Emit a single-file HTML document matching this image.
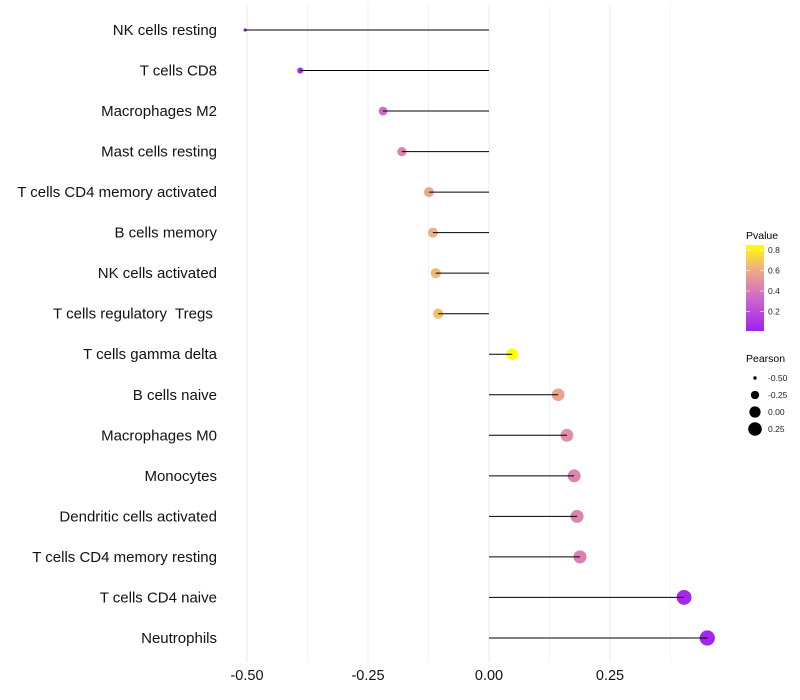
<!DOCTYPE html>
<html><head><meta charset="utf-8"><style>
body{margin:0;background:#fff;}
svg{display:block;font-family:"Liberation Sans",sans-serif;}
text{white-space:pre;}
</style></head><body>
<svg id="chart" width="800" height="700">
<defs>
<linearGradient id="pg" x1="0" y1="1" x2="0" y2="0">
<stop offset="0" stop-color="#a020f0"/>
<stop offset="0.37" stop-color="#cc66cc"/>
<stop offset="0.55" stop-color="#e08aa8"/>
<stop offset="0.73" stop-color="#f0b080"/>
<stop offset="1" stop-color="#ffff00"/>
</linearGradient>
</defs>
<g id="grid"></g>
<g id="marks"></g>
<g id="labels"></g>
<g id="xticks"></g>
<g>
<text x="746" y="239" font-size="10.5">Pvalue</text>
<rect x="746" y="245" width="18" height="86" fill="url(#pg)"/>
<g id="cbticks"></g>
</g>
<g id="sizeleg">
<text x="746" y="362" font-size="10.5">Pearson</text>
</g>
</svg>
<script>
const categories=["NK cells resting","T cells CD8","Macrophages M2","Mast cells resting","T cells CD4 memory activated","B cells memory","NK cells activated","T cells regulatory  Tregs ","T cells gamma delta","B cells naive","Macrophages M0","Monocytes","Dendritic cells activated","T cells CD4 memory resting","T cells CD4 naive","Neutrophils"];
const pearson=[-0.504,-0.39,-0.219,-0.18,-0.124,-0.116,-0.110,-0.105,0.048,0.143,0.161,0.176,0.182,0.188,0.403,0.451];
const pvalue=[0.01,0.03,0.32,0.42,0.56,0.60,0.62,0.64,0.83,0.55,0.46,0.43,0.42,0.41,0.03,0.02];
const xTicks=[-0.5,-0.25,0,0.25];
const xTickLabels=["-0.50","-0.25","0.00","0.25"];
const minorTicks=[-0.375,-0.125,0.125,0.375];
const cbTicks=[0.2,0.4,0.6,0.8];
const sizeTicks=[-0.5,-0.25,0,0.25];
const sizeTickLabels=["-0.50","-0.25","0.00","0.25"];
const NS="http://www.w3.org/2000/svg";
const x=v=>489+v*484;
const y=i=>30+i*40.53;
const r=v=>7.6*Math.sqrt(Math.max(0.04,v+0.55));
const pY=p=>331-(p-0.01)*(84/0.82);
const stops=[[0,[160,32,240]],[0.3,[204,102,204]],[0.45,[224,138,168]],[0.6,[240,176,128]],[0.82,[255,255,0]]];
function col(p){for(let k=1;k<stops.length;k++){if(p<=stops[k][0]||k==stops.length-1){const a=stops[k-1],b=stops[k];let t=(p-a[0])/(b[0]-a[0]);t=Math.max(0,Math.min(1,t));return "rgb("+a[1].map((c,j)=>Math.round(c+(b[1][j]-c)*t)).join(",")+")";}}}
function mk(tag,at,parent){const e=document.createElementNS(NS,tag);for(const k in at)e.setAttribute(k,at[k]);document.getElementById(parent).appendChild(e);return e;}
minorTicks.forEach(v=>{const l=mk("line",{x1:x(v),x2:x(v),y1:5,y2:662,stroke:"#f3f3f3","stroke-width":1},"grid");});
xTicks.forEach((v,i)=>{const l=mk("line",{x1:x(v),x2:x(v),y1:5,y2:662,stroke:"#ebebeb","stroke-width":1},"grid");
const t=mk("text",{x:x(v),y:680,"font-size":14.5,"text-anchor":"middle",fill:"#111"},"xticks");t.textContent=xTickLabels[i];});
categories.forEach((c,i)=>{
const t=mk("text",{x:217,y:y(i)+5,"font-size":15,"text-anchor":"end",fill:"#111"},"labels");t.textContent=c;
const ci=mk("circle",{cx:x(pearson[i]),cy:y(i),r:r(pearson[i]),fill:col(pvalue[i])},"marks");
const l=mk("line",{x1:x(0),x2:x(pearson[i]),y1:y(i),y2:y(i),stroke:"#000","stroke-width":1},"marks");
});
cbTicks.forEach(p=>{const l=mk("line",{x1:746,x2:750,y1:pY(p),y2:pY(p),stroke:"#fff","stroke-opacity":0.6},"cbticks");
const l2=mk("line",{x1:760,x2:764,y1:pY(p),y2:pY(p),stroke:"#fff","stroke-opacity":0.6},"cbticks");
const t=mk("text",{x:768,y:pY(p)+3,"font-size":8.5,fill:"#222"},"cbticks");t.textContent=p.toFixed(1);});
sizeTicks.forEach((v,i)=>{const cy=378+i*17;const c=mk("circle",{cx:755,cy:cy,r:r(v),fill:"#000"},"sizeleg");
const t=mk("text",{x:768,y:cy+3,"font-size":8.5,fill:"#222"},"sizeleg");t.textContent=sizeTickLabels[i];});
</script>
</body></html>
